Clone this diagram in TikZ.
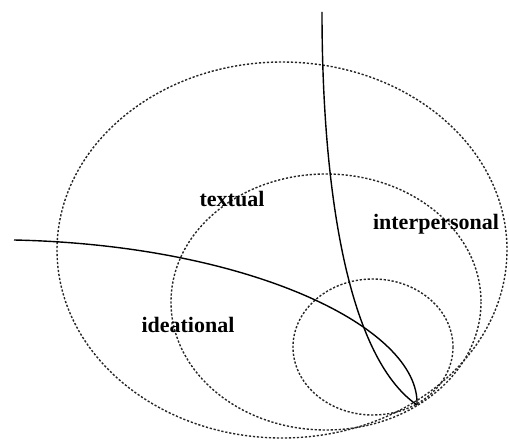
\documentclass[tikz,border=0pt]{standalone}
\usepackage{fontspec}
\setmainfont{Liberation Serif}
\usetikzlibrary{positioning}

\begin{document}
\begin{tikzpicture}[
  x=1pt, y=-1pt,
  ring/.style={draw=black!85, line width=1.4pt, dash pattern=on 2.2pt off 1.8pt},
  strand/.style={draw=black, line width=1.4pt},
  lbl/.style={font=\fontsize{22}{26}\selectfont\bfseries, inner sep=0pt},
]
\useasboundingbox (0,0) rectangle (509,441);

% ---------------- rings --------------------------------------------
\coordinate (tp) at (417,405);
\draw[ring] (282,250) ellipse [x radius=225, y radius=188];
\draw[ring] (326,302) ellipse [x radius=155, y radius=128];
\draw[ring] (373,347) ellipse [x radius=80, y radius=68];

% ---------------- strands ------------------------------------------
\coordinate (west) at (14,240);
\coordinate (north) at (322,12);
\draw[strand] (west) .. controls (250,245) and (420,328) .. (tp);
\draw[strand] (north) .. controls (322,180) and (345,355) .. (tp);

% ---------------- labels -------------------------------------------
\node[lbl] (txt) at (232,199) {textual};
\node[lbl] (inter) at (436,224) {interpersonal};
\node[lbl] (idea) at (188,325) {ideational};

\end{tikzpicture}
\end{document}
